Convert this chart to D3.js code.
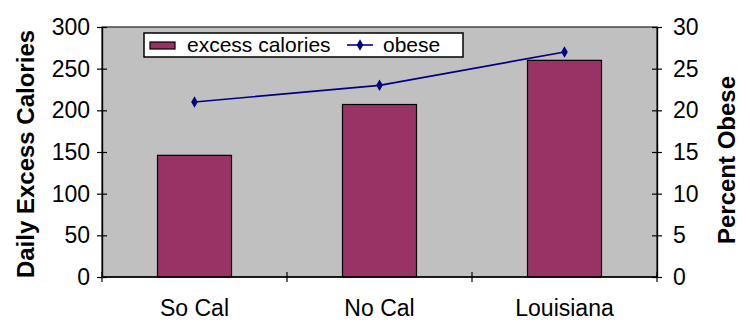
<!DOCTYPE html>
<html><head><meta charset="utf-8">
<script src="https://cdn.jsdelivr.net/npm/d3@7"></script>
<style>
html,body{margin:0;padding:0;background:#fff;}
text{font-family:"Liberation Sans",Arial,sans-serif;fill:#000;}
</style></head>
<body><svg id="c" width="750" height="335"></svg>
<script>
const categories = ["So Cal", "No Cal", "Louisiana"];
const excessCalories = [146, 207, 260];
const percentObese = [21, 23, 27];
const leftTicks = [0, 50, 100, 150, 200, 250, 300];
const rightTicks = [0, 5, 10, 15, 20, 25, 30];

const W = 750, H = 335;
const m = {left: 102, right: 93, top: 27, bottom: 58};
const svg = d3.select("#c");

const x = d3.scaleBand().domain(categories).range([m.left, W - m.right]).paddingInner(0.6).paddingOuter(0.3);
const yL = d3.scaleLinear().domain([0, 300]).range([H - m.bottom, m.top]);
const yR = d3.scaleLinear().domain([0, 30]).range([H - m.bottom, m.top]);

// plot area
svg.append("rect").attr("x", m.left).attr("y", m.top)
  .attr("width", W - m.left - m.right).attr("height", H - m.top - m.bottom)
  .attr("fill", "#C0C0C0").attr("stroke", "#222").attr("stroke-width", 1.2);

// bars
svg.selectAll("rect.bar").data(categories).join("rect").attr("class", "bar")
  .attr("x", d => x(d)).attr("width", x.bandwidth())
  .attr("y", (d, i) => yL(excessCalories[i]))
  .attr("height", (d, i) => yL(0) - yL(excessCalories[i]))
  .attr("fill", "#993366").attr("stroke", "#000").attr("stroke-width", 1.2);

// line
const cx = d => x(d) + x.bandwidth() / 2;
const line = d3.line().x((d, i) => cx(categories[i])).y(d => yR(d));
svg.append("path").datum(percentObese).attr("d", line)
  .attr("fill", "none").attr("stroke", "#000080").attr("stroke-width", 1.6);
const diamond = d3.symbol().type(d3.symbolDiamond).size(38);
svg.selectAll("path.mk").data(percentObese).join("path").attr("class", "mk")
  .attr("d", diamond)
  .attr("transform", (d, i) => `translate(${cx(categories[i])},${yR(d)})`)
  .attr("fill", "#000080");

// left axis
const gl = svg.append("g").attr("transform", `translate(${m.left},0)`)
  .call(d3.axisLeft(yL).tickValues(leftTicks).tickSize(5).tickPadding(7).tickSizeOuter(0));
gl.selectAll(".tick line").attr("x1", 5).attr("stroke", "#000").attr("stroke-width", 1.2);
gl.select(".domain").attr("stroke", "#000").attr("stroke-width", 1.4);
gl.selectAll("text").attr("font-size", 23).attr("font-family", '"Liberation Sans",Arial,sans-serif').attr("fill", "#000");

// right axis
const gr = svg.append("g").attr("transform", `translate(${W - m.right},0)`)
  .call(d3.axisRight(yR).tickValues(rightTicks).tickSize(5).tickPadding(11).tickSizeOuter(0));
gr.selectAll(".tick line").attr("x1", -5).attr("stroke", "#000").attr("stroke-width", 1.2);
gr.select(".domain").attr("stroke", "#000").attr("stroke-width", 1.4);
gr.selectAll("text").attr("font-size", 23).attr("font-family", '"Liberation Sans",Arial,sans-serif').attr("fill", "#000");

// bottom axis
const gb = svg.append("g").attr("transform", `translate(0,${H - m.bottom})`);
gb.append("line").attr("x1", m.left).attr("x2", W - m.right).attr("stroke", "#000").attr("stroke-width", 1.4);
const step = x.step();
const bounds = d3.range(categories.length + 1).map(i => m.left + i * step * (i === 0 ? 0 : 1) );
gb.selectAll("line.t").data(bounds).join("line").attr("class", "t")
  .attr("x1", d => d).attr("x2", d => d).attr("y1", -5).attr("y2", 5)
  .attr("stroke", "#000").attr("stroke-width", 1.2);
gb.selectAll("text").data(categories).join("text")
  .attr("x", d => cx(d)).attr("y", 39).attr("text-anchor", "middle")
  .attr("font-size", 23).text(d => d);

// axis titles
svg.append("text").attr("transform", `translate(34,${(m.top + H - m.bottom) / 2 + 2}) rotate(-90)`)
  .attr("text-anchor", "middle").attr("font-size", 24).attr("font-weight", "bold")
  .text("Daily Excess Calories");
svg.append("text").attr("transform", `translate(735,160) rotate(-90)`)
  .attr("text-anchor", "middle").attr("font-size", 24).attr("font-weight", "bold")
  .text("Percent Obese");

// legend
const lg = svg.append("g");
lg.append("rect").attr("x", 144).attr("y", 33).attr("width", 319).attr("height", 24)
  .attr("fill", "#fff").attr("stroke", "#000").attr("stroke-width", 1.5);
lg.append("rect").attr("x", 150).attr("y", 42).attr("width", 25).attr("height", 7)
  .attr("fill", "#993366").attr("stroke", "#000").attr("stroke-width", 1.2);
lg.append("text").attr("x", 187).attr("y", 51.5).attr("font-size", 21).text("excess calories");
lg.append("line").attr("x1", 347).attr("x2", 373).attr("y1", 45).attr("y2", 45)
  .attr("stroke", "#000080").attr("stroke-width", 1.6);
lg.append("path").attr("d", diamond).attr("transform", "translate(360,45)").attr("fill", "#000080");
lg.append("text").attr("x", 383).attr("y", 51.5).attr("font-size", 21).text("obese");
</script></body></html>
